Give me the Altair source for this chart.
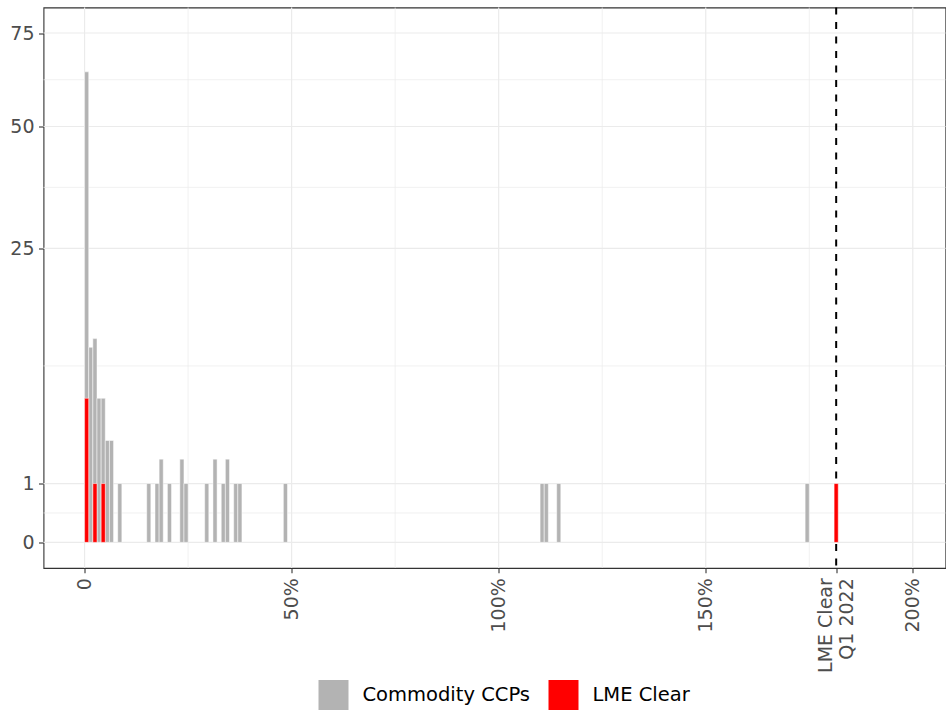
import altair as alt
import numpy as np
import pandas as pd

# Histogram counts per 1-percentage-point bin (bin start, count)
ccp_bins = [0, 1, 2, 3, 4, 5, 6, 8, 15, 17, 18, 20, 23, 24, 29, 31, 33, 34, 36, 37, 48, 110, 111, 114, 174]
ccp_counts = [64, 11, 12, 6, 6, 3, 3, 1, 1, 1, 2, 1, 2, 1, 1, 2, 1, 2, 1, 1, 1, 1, 1, 1, 1]

lme_bins = [0, 2, 4, 181]
lme_counts = [6, 1, 1, 1]

lme_q1_2022 = 181.5

groups = ["Commodity CCPs", "LME Clear"]
colors = ["#b3b3b3", "#ff0000"]

x_major = [0, 50, 100, 150, 200]
x_minor = [25, 75, 125, 175]
y_major = [0, 1, 25, 50, 75]
# minor breaks sit half-way between major breaks on the square-root scale
y_minor = [((np.sqrt(a) + np.sqrt(b)) / 2) ** 2 for a, b in zip(y_major[:-1], y_major[1:])]

bars = pd.DataFrame(
    {
        "lo": ccp_bins + lme_bins,
        "count": ccp_counts + lme_counts,
        "group": [groups[0]] * len(ccp_bins) + [groups[1]] * len(lme_bins),
    }
)
bars["hi"] = bars["lo"] + 1
bars["base"] = 0
bars["order"] = range(len(bars))

FONT = "DejaVu Sans"
TICK_FONT_SIZE = 19
LINE_HEIGHT = 21.5
x_scale = alt.Scale(domain=[-9.92, 207.9], nice=False, zero=False)
y_scale = alt.Scale(type="sqrt", domain=[-0.19, 82.7], nice=False, zero=False)

GRID = "#ebebeb"

label_expr = (
    f"datum.value == {lme_q1_2022} ? ['LME Clear', 'Q1 2022'] : "
    "(datum.value == 0 ? '0' : datum.value + '%')"
)

x_axis = alt.Axis(
    values=x_major[:4] + [lme_q1_2022] + x_major[4:],
    labelExpr=label_expr,
    labelAngle=270,
    labelFont=FONT,
    labelFontSize=TICK_FONT_SIZE,
    labelColor="#4d4d4d",
    labelLineHeight=LINE_HEIGHT,
    # centre the two-line label on its tick
    labelOffset={
        "condition": {"test": f"datum.value == {lme_q1_2022}", "value": -LINE_HEIGHT / 2},
        "value": 0,
    },
    labelPadding=5,
    tickSize=4.7,
    tickColor="#333333",
    tickWidth=1.1,
    domain=False,
    grid=False,
    title=None,
    labelOverlap=False,
    labelFlush=False,
    labelLimit=0,
)

y_axis = alt.Axis(
    values=y_major,
    labelFont=FONT,
    labelFontSize=TICK_FONT_SIZE,
    labelColor="#4d4d4d",
    labelPadding=4.5,
    tickSize=5,
    tickColor="#333333",
    tickWidth=1.1,
    domain=False,
    grid=False,
    title=None,
    labelOverlap=False,
    labelFlush=False,
)


def vgrid(values, width):
    return (
        alt.Chart(pd.DataFrame({"v": values}))
        .mark_rule(color=GRID, strokeWidth=width)
        .encode(x=alt.X("v:Q", scale=x_scale, axis=x_axis))
    )


def hgrid(values, width):
    return (
        alt.Chart(pd.DataFrame({"v": values}))
        .mark_rule(color=GRID, strokeWidth=width)
        .encode(y=alt.Y("v:Q", scale=y_scale, axis=y_axis))
    )


vline = (
    alt.Chart(pd.DataFrame({"v": [lme_q1_2022]}))
    .mark_rule(color="black", strokeWidth=2, strokeDash=[7, 7.5])
    .encode(x=alt.X("v:Q", scale=x_scale, axis=x_axis))
)

hist = (
    alt.Chart(bars)
    .mark_bar(stroke="white", strokeWidth=0.5)
    .encode(
        x=alt.X("lo:Q", scale=x_scale, axis=x_axis),
        x2="hi:Q",
        y=alt.Y("count:Q", scale=y_scale, axis=y_axis),
        y2="base:Q",
        color=alt.Color(
            "group:N",
            scale=alt.Scale(domain=groups, range=colors),
            legend=alt.Legend(
                title=None,
                orient="none",
                legendX=275,
                legendY=672.5,
                direction="horizontal",
                symbolType="square",
                symbolSize=900,
                symbolStrokeWidth=0,
                labelFont=FONT,
                labelFontSize=19.5,
                labelColor="black",
                labelOffset=14,
                labelLimit=0,
                columnPadding=18,
                padding=0,
            ),
        ),
        order=alt.Order("order:Q"),
    )
)

chart = (
    alt.layer(
        vgrid(x_minor, 0.7),
        hgrid(y_minor, 0.7),
        vgrid(x_major, 1.2),
        hgrid(y_major, 1.2),
        vline,
        hist,
    )
    .properties(
        width=902,
        height=560.5,
        padding={"left": 43.5, "top": 7.5, "right": 0.5, "bottom": 145},
        autosize=alt.AutoSizeParams(type="none"),
        background="white",
    )
    .configure_view(stroke="#333333", strokeWidth=1.1)
)

chart.save("out.html", embed_options={"renderer": "svg", "actions": False})
